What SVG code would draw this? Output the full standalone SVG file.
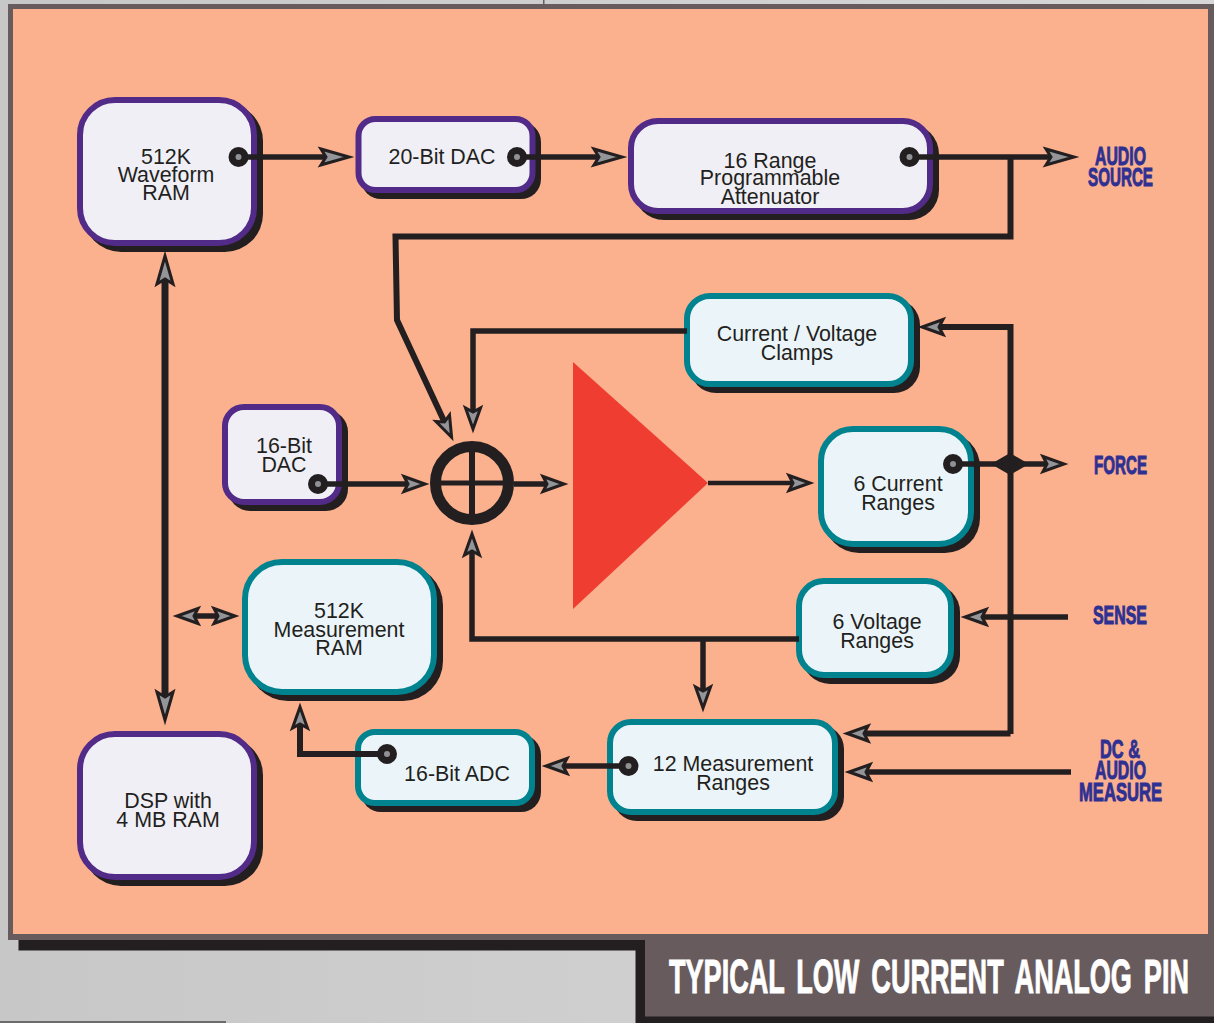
<svg xmlns="http://www.w3.org/2000/svg" width="1214" height="1023" viewBox="0 0 1214 1023">
<style>
.shadow{fill:#231f20}
.p{fill:#f0eff6;stroke:#522a87;stroke-width:6}
.t{fill:#ebf5f9;stroke:#00838f;stroke-width:6}
.n{font-family:"Liberation Sans",Arial,sans-serif;font-size:21.4px;fill:#231f20;text-anchor:middle}
.l{font-family:"Liberation Sans",Arial,sans-serif;font-weight:bold;font-size:26px;fill:#2e3192;stroke:#2e3192;stroke-width:1}
.c{fill:none;stroke:#231f20;stroke-width:5.5;stroke-linejoin:miter}
.w{stroke-width:6}
.dot{fill:#8f9194;stroke:#231f20;stroke-width:7}
.ah{fill:#939598;stroke:#231f20;stroke-width:3;stroke-linejoin:miter;stroke-miterlimit:10}
</style>
<defs>
<linearGradient id="bg" x1="0" x2="1" y1="0" y2="0"><stop offset="0" stop-color="#c8c7c7"/><stop offset="1" stop-color="#d8d7d7"/></linearGradient>
<marker id="big" markerUnits="userSpaceOnUse" viewBox="-4 -4 48 28" markerWidth="48" markerHeight="28" refX="8" refY="10" orient="auto-start-reverse"><path class="ah" d="M3,2 L31,10 L3,18 L8,10 Z"/></marker>
<marker id="sm" markerUnits="userSpaceOnUse" viewBox="-4 -4 40 28" markerWidth="40" markerHeight="28" refX="6" refY="10" orient="auto-start-reverse"><path class="ah" d="M3,2.500 L24,10 L3,17.500 L7,10 Z"/></marker>
</defs>
<g id="page">
<rect width="1214" height="1023" fill="url(#bg)"/>
<rect x="543" y="0" width="1.5" height="5" fill="#685b5d"/>
<rect x="8" y="4" width="1206" height="936" fill="#685b5d"/>
<rect x="13" y="9" width="1195" height="925" fill="#fbb08e"/>
<rect x="18.500" y="940" width="626.500" height="10.500" fill="#231f20"/>
<rect x="635.500" y="950" width="578.500" height="73" fill="#231f20"/>
<rect x="645" y="940" width="569" height="76.500" fill="#685b5d"/>
<rect x="0" y="1021" width="226" height="2" fill="#6b6b6b"/>
<text x="669" y="993" font-family="'Liberation Sans',Arial,sans-serif" font-weight="bold" font-size="49" fill="#fff" stroke="#fff" stroke-width="1" word-spacing="8" textLength="520" lengthAdjust="spacingAndGlyphs">TYPICAL LOW CURRENT ANALOG PIN</text>
</g>
<g id="amp"><path d="M573,362 L708,483 L573,609 Z" fill="#ef3e31"/></g>
<g id="waveform-ram"><rect class="shadow" x="83" y="103" width="180" height="149" rx="38"/><rect class="p" x="80" y="100" width="174" height="143" rx="35"/><text class="n" x="166"><tspan x="166" y="164">512K</tspan><tspan x="166" y="182">Waveform</tspan><tspan x="166" y="200">RAM</tspan></text></g>
<g id="dac20"><rect class="shadow" x="361" y="122" width="180" height="77" rx="20"/><rect class="p" x="358.500" y="119" width="174" height="71" rx="17"/><text class="n" x="442" y="164">20-Bit DAC</text></g>
<g id="attenuator"><rect class="shadow" x="634" y="124" width="305" height="96" rx="30"/><rect class="p" x="631" y="121" width="299" height="90" rx="27"/><text class="n"><tspan x="770" y="167.500">16 Range</tspan><tspan x="770" y="185">Programmable</tspan><tspan x="770" y="204">Attenuator</tspan></text></g>
<g id="clamps"><rect class="shadow" x="690" y="299" width="230" height="94" rx="26"/><rect class="t" x="687" y="296" width="224" height="88" rx="23"/><text class="n"><tspan x="797" y="341">Current / Voltage</tspan><tspan x="797" y="360">Clamps</tspan></text></g>
<g id="dac16"><rect class="shadow" x="228" y="410" width="120" height="101" rx="22"/><rect class="p" x="225" y="407" width="114" height="95" rx="19"/><text class="n"><tspan x="284" y="453">16-Bit</tspan><tspan x="284" y="472">DAC</tspan></text></g>
<g id="current-ranges"><rect class="shadow" x="824" y="432" width="156" height="121" rx="35"/><rect class="t" x="821" y="429" width="150" height="115" rx="32"/><text class="n"><tspan x="898" y="491">6 Current</tspan><tspan x="898" y="510">Ranges</tspan></text></g>
<g id="voltage-ranges"><rect class="shadow" x="802" y="584" width="158" height="100" rx="28"/><rect class="t" x="799" y="581" width="152" height="94" rx="25"/><text class="n"><tspan x="877" y="629">6 Voltage</tspan><tspan x="877" y="648">Ranges</tspan></text></g>
<g id="measurement-ram"><rect class="shadow" x="248" y="565" width="195" height="136" rx="40"/><rect class="t" x="245" y="562" width="189" height="130" rx="37"/><text class="n"><tspan x="339" y="618">512K</tspan><tspan x="339" y="637">Measurement</tspan><tspan x="339" y="655">RAM</tspan></text></g>
<g id="adc16"><rect class="shadow" x="361" y="735" width="180" height="77" rx="20"/><rect class="t" x="358" y="732" width="174" height="71" rx="17"/><text class="n" x="457" y="781">16-Bit ADC</text></g>
<g id="measurement-ranges"><rect class="shadow" x="613" y="725" width="231" height="96" rx="24"/><rect class="t" x="610" y="722" width="225" height="90" rx="21"/><text class="n"><tspan x="733" y="771">12 Measurement</tspan><tspan x="733" y="790">Ranges</tspan></text></g>
<g id="dsp"><rect class="shadow" x="83" y="737" width="180" height="149" rx="38"/><rect class="p" x="80" y="734" width="174" height="143" rx="35"/><text class="n"><tspan x="168" y="808">DSP with</tspan><tspan x="168" y="827">4 MB RAM</tspan></text></g>
<g id="connectors">
<path class="c" d="M238,157 H326" marker-end="url(#big)"/>
<path class="c" d="M517,157 H599" marker-end="url(#big)"/>
<path class="c" d="M909,157 H1051" marker-end="url(#big)"/>
<path class="c w" d="M1010.500,157 V236.500 H395.500 L397,320 L444,421" marker-end="url(#sm)"/>
<path class="c" d="M687,331 H473 V411" marker-end="url(#sm)"/>
<path class="c" d="M318,484 H407" marker-end="url(#sm)"/>
<path class="c" d="M514,484 H546" marker-end="url(#sm)"/>
<path class="c" style="stroke-width:4.500" d="M708,483 H792" marker-end="url(#sm)"/>
<path class="c" d="M953,464 H1046" marker-end="url(#sm)"/>
<path class="c w" d="M1010.500,734 V327 H940" marker-end="url(#sm)"/>
<path class="c w" d="M1010.500,733.500 H865" marker-end="url(#sm)"/>
<path class="c" d="M1068,617 H983" marker-end="url(#sm)"/>
<path class="c" d="M1071,772 H867" marker-end="url(#sm)"/>
<path class="c" d="M799,639 H472 V552" marker-end="url(#sm)"/>
<path class="c" d="M703,639 V690" marker-end="url(#sm)"/>
<path class="c" d="M628,766 H564" marker-end="url(#sm)"/>
<path class="c w" d="M387,754 H300 V725" marker-end="url(#sm)"/>
<path class="c w" style="stroke-width:7" d="M165,279 V697" marker-start="url(#big)" marker-end="url(#big)"/>
<path class="c" d="M195,616 H217" marker-start="url(#sm)" marker-end="url(#sm)"/>
<path d="M991,464 L1010,453 L1029,464 L1010,475 Z" fill="#231f20"/>
<circle cx="472" cy="483" r="36.500" fill="none" stroke="#231f20" stroke-width="11"/>
<path d="M472,447 V519" stroke="#231f20" stroke-width="6"/>
<path d="M436,483 H508" stroke="#231f20" stroke-width="5"/>
<circle class="dot" cx="238.500" cy="157" r="6.500"/>
<circle class="dot" cx="517" cy="157" r="6.500"/>
<circle class="dot" cx="909.500" cy="157" r="6.500"/>
<circle class="dot" cx="318" cy="484" r="6.500"/>
<circle class="dot" cx="953" cy="464" r="6.500"/>
<circle class="dot" cx="387" cy="754" r="6.500"/>
<circle class="dot" cx="628.500" cy="766" r="6.500"/>
</g>
<g id="labels">
<text class="l" x="1095" y="165" textLength="51" lengthAdjust="spacingAndGlyphs">AUDIO</text>
<text class="l" x="1088" y="186" textLength="65" lengthAdjust="spacingAndGlyphs">SOURCE</text>
<text class="l" x="1094" y="474" textLength="53" lengthAdjust="spacingAndGlyphs">FORCE</text>
<text class="l" x="1093" y="624" textLength="54" lengthAdjust="spacingAndGlyphs">SENSE</text>
<text class="l" x="1100" y="758" textLength="40" lengthAdjust="spacingAndGlyphs">DC &amp;</text>
<text class="l" x="1095" y="779" textLength="51" lengthAdjust="spacingAndGlyphs">AUDIO</text>
<text class="l" x="1079" y="801" textLength="83" lengthAdjust="spacingAndGlyphs">MEASURE</text>
</g>
</svg>
